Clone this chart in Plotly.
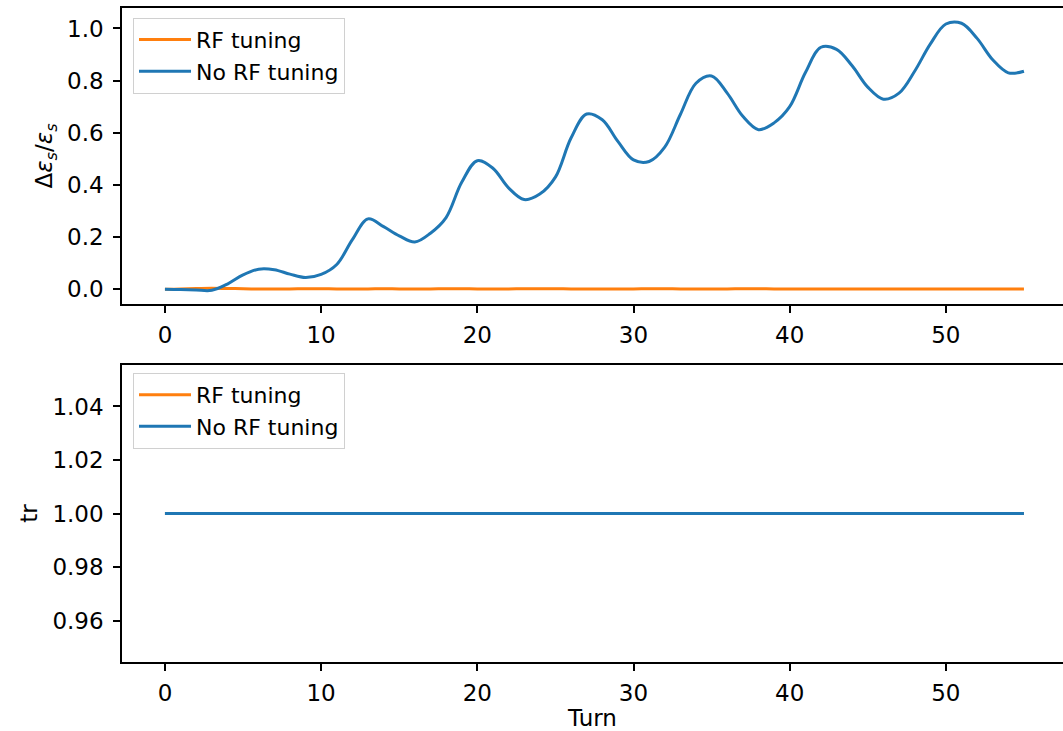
import plotly.graph_objects as go
from plotly.subplots import make_subplots

turns = list(range(56))

no_rf_emit = [0.0, -0.001, -0.003, -0.004, 0.02, 0.055, 0.077, 0.075, 0.058, 0.045,
              0.057, 0.095, 0.19, 0.27, 0.24, 0.205, 0.181, 0.215, 0.275, 0.41,
              0.493, 0.464, 0.389, 0.344, 0.365, 0.43, 0.58, 0.672, 0.65, 0.567,
              0.496, 0.49, 0.545, 0.67, 0.79, 0.818, 0.752, 0.663, 0.612, 0.638,
              0.70, 0.83, 0.928, 0.92, 0.857, 0.775, 0.729, 0.752, 0.836, 0.94,
              1.017, 1.02, 0.962, 0.88, 0.830, 0.836]

rf_emit = [0.0, 0.001, 0.003, 0.004, 0.003, 0.002, 0.001, 0.001, 0.001, 0.002,
           0.002, 0.001, 0.001, 0.001, 0.002, 0.001, 0.001, 0.001, 0.002, 0.002,
           0.001, 0.001, 0.001, 0.002, 0.002, 0.002, 0.001, 0.001, 0.001, 0.001,
           0.001, 0.002, 0.002, 0.001, 0.001, 0.001, 0.001, 0.002, 0.002, 0.001,
           0.001, 0.001, 0.001, 0.001, 0.001, 0.001, 0.001, 0.001, 0.001, 0.001,
           0.001, 0.001, 0.001, 0.001, 0.001, 0.001]

rf_tr = [1.0] * 56
no_rf_tr = [1.0] * 56

x_ticks = [0, 10, 20, 30, 40, 50]
y1_ticks = [0.0, 0.2, 0.4, 0.6, 0.8, 1.0]
y2_ticks = [0.96, 0.98, 1.00, 1.02, 1.04]
y2_ticktext = ["0.96", "0.98", "1.00", "1.02", "1.04"]

ORANGE = "#ff7f0e"
BLUE = "#1f77b4"
FONT = "DejaVu Sans"
TICK_SIZE = 23
TITLE_SIZE = 23
LEGEND_SIZE = 22

fig = make_subplots(rows=2, cols=1)

fig.add_trace(go.Scatter(x=turns, y=rf_emit, mode="lines", name="RF tuning",
                         line=dict(color=ORANGE, width=3, shape="spline", smoothing=1.0),
                         legend="legend"), row=1, col=1)
fig.add_trace(go.Scatter(x=turns, y=no_rf_emit, mode="lines", name="No RF tuning",
                         line=dict(color=BLUE, width=3, shape="spline", smoothing=1.0),
                         legend="legend"), row=1, col=1)
fig.add_trace(go.Scatter(x=turns, y=rf_tr, mode="lines", name="RF tuning",
                         line=dict(color=ORANGE, width=3),
                         legend="legend2"), row=2, col=1)
fig.add_trace(go.Scatter(x=turns, y=no_rf_tr, mode="lines", name="No RF tuning",
                         line=dict(color=BLUE, width=3),
                         legend="legend2"), row=2, col=1)

axis_common = dict(
    showgrid=False, zeroline=False, showline=True, linecolor="#000000", linewidth=1.5,
    ticks="outside", ticklen=7, tickwidth=1.5, tickcolor="#000000",
    tickfont=dict(family=FONT, size=TICK_SIZE, color="#000000"),
)

fig.update_xaxes(**axis_common, mirror=True, range=[-2.75, 57.5],
                 tickvals=x_ticks, ticklabelstandoff=3)
fig.update_yaxes(**axis_common, mirror=False, ticklabelstandoff=5)

fig.update_xaxes(domain=[0, 1], row=1, col=1)
fig.update_xaxes(domain=[0, 1], row=2, col=1,
                 title=dict(text="Turn", font=dict(family=FONT, size=TITLE_SIZE, color="#000000"),
                            standoff=6))
fig.update_yaxes(domain=[0.5474, 1.0], range=[-0.0565, 1.0785], tickvals=y1_ticks,
                 tickformat=".1f", row=1, col=1,
                 title=dict(text="Δ<i>ε</i><sub><i>s</i></sub>/<i>ε</i><sub><i>s</i></sub>",
                            font=dict(family=FONT, size=TITLE_SIZE, color="#000000"), standoff=8))
fig.update_yaxes(domain=[0.0, 0.4541], range=[0.9445, 1.0555], tickvals=y2_ticks,
                 ticktext=y2_ticktext, row=2, col=1,
                 title=dict(text="tr", font=dict(family=FONT, size=TITLE_SIZE, color="#000000"),
                            standoff=8))

legend_common = dict(
    bgcolor="rgba(255,255,255,0.8)", bordercolor="#d0d0d0", borderwidth=1,
    font=dict(family=FONT, size=LEGEND_SIZE, color="#000000"),
    xanchor="left", yanchor="top", traceorder="normal", itemwidth=52,
)

fig.update_layout(
    width=1063, height=731,
    margin=dict(l=122, r=0, t=8, b=69),
    plot_bgcolor="#ffffff", paper_bgcolor="#ffffff",
    font=dict(family=FONT, size=TICK_SIZE, color="#000000"),
    legend=dict(**legend_common, x=0.0117, y=0.985),
    legend2=dict(**legend_common, x=0.0117, y=0.442),
    showlegend=True,
)

fig.write_html("out.html")
